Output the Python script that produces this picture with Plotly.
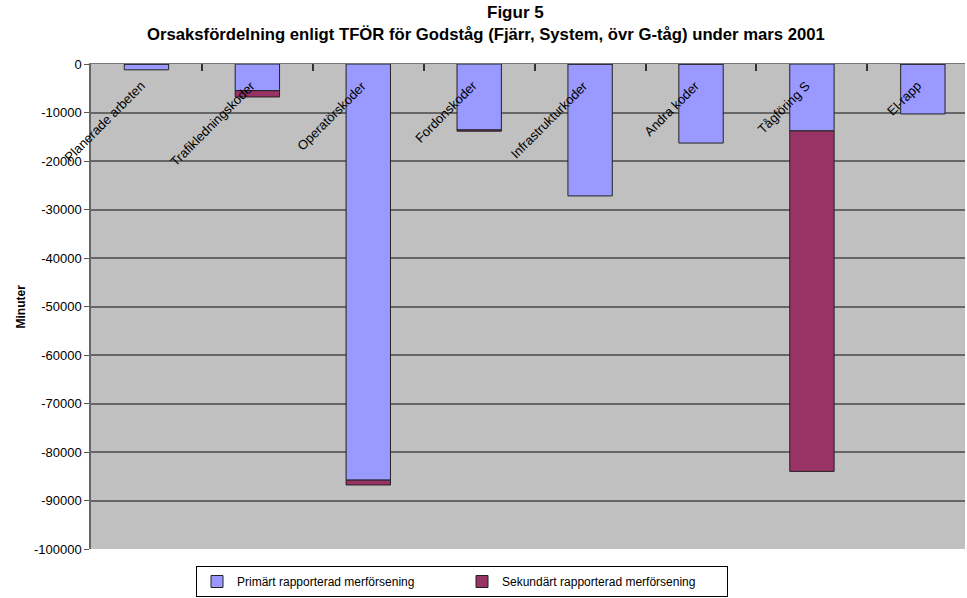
import plotly.graph_objects as go

# Orsakskoder (kategorier) och förseningsminuter per kod
categories = ["Planerade arbeten", "Trafikledningskoder", "Operatörskoder", "Fordonskoder",
              "Infrastrukturkoder", "Andra koder", "Tågföring S", "El-rapp"]
primary = [-1200, -5500, -85800, -13600, -27200, -16300, -13800, -10300]
secondary = [0, -1300, -1000, -250, 0, 0, -70200, 0]
series_names = ["Primärt rapporterad merförsening", "Sekundärt rapporterad merförsening"]
y_ticks = list(range(0, -100001, -10000))

FONT = "Liberation Sans, Arial, sans-serif"

fig = go.Figure()
fig.add_trace(go.Bar(x=categories, y=primary, name=series_names[0],
                     marker=dict(color="#9999FF", line=dict(color="#222222", width=1))))
fig.add_trace(go.Bar(x=categories, y=secondary, name=series_names[1],
                     marker=dict(color="#993366", line=dict(color="#222222", width=1))))

# Kategorietiketter, snett inne i diagramytan
annotations = []
for c in categories:
    annotations.append(dict(x=c, y=0.977, xref="x", yref="paper", text=c, showarrow=False,
                            textangle=-45, xanchor="right", yanchor="top", xshift=4,
                            font=dict(family=FONT, size=13, color="#000000")))

annotations.append(dict(x=(515 - 91) / 874, y=1 + (64 - 12) / 486, xref="paper", yref="paper",
                        text="<b>Figur 5</b>", showarrow=False, xanchor="center", yanchor="middle",
                        font=dict(family=FONT, size=17, color="#000000")))
annotations.append(dict(x=(486 - 91) / 874, y=1 + (64 - 34) / 486, xref="paper", yref="paper",
                        text="<b>Orsaksfördelning enligt TFÖR för Godståg (Fjärr, System, övr G-tåg) under mars 2001</b>",
                        showarrow=False, xanchor="center", yanchor="middle",
                        font=dict(family=FONT, size=16.7, color="#000000")))
annotations.append(dict(x=(20 - 91) / 874, y=0.5, xref="paper", yref="paper", text="<b>Minuter</b>",
                        showarrow=False, textangle=-90, xanchor="center", yanchor="middle",
                        font=dict(family=FONT, size=12, color="#000000")))

fig.update_layout(
    width=967, height=598,
    margin=dict(l=91, r=2, t=64, b=48),
    paper_bgcolor="#FFFFFF",
    plot_bgcolor="#C0C0C0",
    barmode="relative",
    bargap=0.6,
    showlegend=True,
    legend=dict(orientation="h", x=(462 - 91) / 874, xanchor="center", y=-16 / 486, yanchor="top",
                bgcolor="#FFFFFF", bordercolor="#000000", borderwidth=1,
                entrywidth=220, entrywidthmode="pixels",
                font=dict(family=FONT, size=12, color="#000000"), traceorder="normal"),
    annotations=annotations,
    font=dict(family=FONT, color="#000000"),
)
# The plot area runs on past the right edge of the page, so the last category is partly cut.
# Tick marks hang down from the top axis line at the category boundaries.
fig.update_xaxes(range=[-0.5, 7.38], side="top", type="category",
                 tickson="boundaries", showticklabels=False,
                 ticks="inside", ticklen=7, tickcolor="#333333", tickwidth=2,
                 showline=True, linecolor="#777777", linewidth=1, mirror=False,
                 showgrid=False, zeroline=False)
fig.update_yaxes(range=[-100000, 0], tickvals=y_ticks, ticktext=[str(v) for v in y_ticks],
                 ticks="outside", ticklen=5, tickcolor="#555555",
                 showline=True, linecolor="#666666", linewidth=1.5,
                 showgrid=True, gridcolor="#666666", gridwidth=1.5, zeroline=False,
                 tickfont=dict(family=FONT, size=13, color="#000000"))

fig.write_html("out.html")
